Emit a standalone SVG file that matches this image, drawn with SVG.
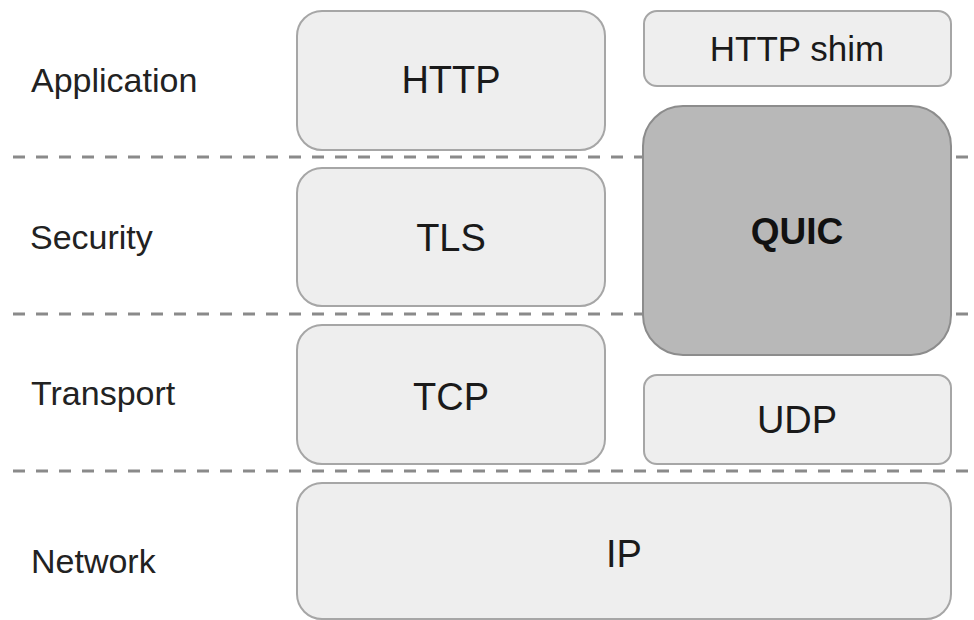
<svg xmlns="http://www.w3.org/2000/svg" width="974" height="620" viewBox="0 0 974 620">
  <style>
    .layer-line { stroke: #8a8a8a; stroke-width: 3; stroke-dasharray: 12 11; fill: none; }
    .box { fill: #eeeeee; stroke: #a6a6a6; stroke-width: 2; }
    .box-dark { fill: #b8b8b8; stroke: #8c8c8c; stroke-width: 2; }
    .layer-label { font-family: "Liberation Sans", Arial, sans-serif; font-size: 34px; fill: #222; }
    .box-label { font-family: "Liberation Sans", Arial, sans-serif; font-size: 38px; fill: #1a1a1a; text-anchor: middle; }
    .box-label-bold { font-family: "Liberation Sans", Arial, sans-serif; font-size: 37px; font-weight: bold; fill: #111; text-anchor: middle; }
  </style>
  <rect width="974" height="620" fill="#ffffff"/>

  <!-- dashed layer separators, drawn beneath the boxes -->
  <g id="connectors">
    <line class="layer-line" x1="13" y1="157" x2="974" y2="157"/>
    <line class="layer-line" x1="13" y1="314" x2="974" y2="314"/>
    <line class="layer-line" x1="13" y1="471" x2="974" y2="471"/>
  </g>

  <!-- layer names -->
  <g id="layer-labels">
    <text class="layer-label" x="31" y="92">Application</text>
    <text class="layer-label" x="30" y="249">Security</text>
    <text class="layer-label" x="31" y="405">Transport</text>
    <text class="layer-label" x="31" y="573">Network</text>
  </g>

  <!-- classic stack -->
  <g id="http">
    <rect class="box" x="297" y="11" width="308" height="139" rx="25"/>
    <text class="box-label" x="451" y="93">HTTP</text>
  </g>
  <g id="tls">
    <rect class="box" x="297" y="168" width="308" height="138" rx="25"/>
    <text class="box-label" x="451" y="251">TLS</text>
  </g>
  <g id="tcp">
    <rect class="box" x="297" y="325" width="308" height="139" rx="25"/>
    <text class="box-label" x="451" y="410">TCP</text>
  </g>

  <!-- QUIC stack -->
  <g id="http-shim">
    <rect class="box" x="644" y="11" width="307" height="75" rx="13"/>
    <text class="box-label" x="797" y="61" style="font-size:35px">HTTP shim</text>
  </g>
  <g id="quic">
    <rect class="box-dark" x="643" y="106" width="308" height="249" rx="40"/>
    <text class="box-label-bold" x="797" y="244">QUIC</text>
  </g>
  <g id="udp">
    <rect class="box" x="644" y="375" width="307" height="89" rx="13"/>
    <text class="box-label" x="797" y="433">UDP</text>
  </g>

  <!-- shared network layer -->
  <g id="ip">
    <rect class="box" x="297" y="483" width="654" height="136" rx="25"/>
    <text class="box-label" x="624" y="567">IP</text>
  </g>
</svg>
